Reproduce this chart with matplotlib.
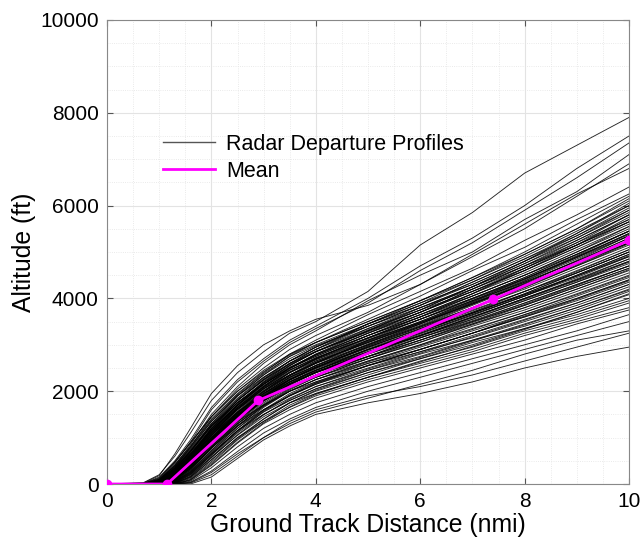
import matplotlib
matplotlib.use("Agg")
import matplotlib.pyplot as plt
from matplotlib.lines import Line2D
from matplotlib.ticker import MultipleLocator

plt.rcParams['font.family'] = ['Liberation Sans', 'DejaVu Sans']

# Sample distances (nmi) at which each radar profile is read
profile_x = [0, 0.7, 1.0, 1.3, 1.6, 2.0, 2.5, 3.0, 3.5, 4.0, 5.0, 6.0, 7.0, 8.0, 9.0, 10.0]

# Altitudes (ft) of each radar departure profile at profile_x (x=0 -> 0 ft)
profiles = [
    [30, 200, 600, 1100, 1800, 2400, 2850, 3250, 3500, 4150, 5150, 5850, 6700, 7300, 7900],
    [10, 150, 500, 950, 1650, 2250, 2700, 3100, 3400, 4000, 4700, 5300, 6000, 6800, 7500],
    [0, 100, 450, 900, 1600, 2200, 2650, 3050, 3350, 3900, 4600, 5200, 5900, 6600, 7350],
    [0, 80, 400, 850, 1500, 2100, 2600, 3000, 3300, 3950, 4500, 5000, 5700, 6300, 7100],
    [20, 180, 650, 1200, 1950, 2550, 3000, 3300, 3550, 3850, 4300, 4900, 5500, 6200, 6900],
    [0, 60, 350, 800, 1450, 2050, 2500, 2900, 3200, 3700, 4300, 4950, 5600, 6250, 6800],
    [0, 100, 420, 820, 1400, 1950, 2400, 2800, 3100, 3650, 4150, 4650, 5250, 5800, 6400],
    [0, 50, 300, 700, 1300, 1900, 2350, 2750, 3050, 3550, 4050, 4600, 5100, 5700, 6250],
    [10, 120, 480, 900, 1450, 2000, 2450, 2800, 3050, 3500, 3950, 4450, 4950, 5500, 6100],
    [0, 40, 250, 600, 1200, 1800, 2250, 2650, 2950, 3450, 3950, 4400, 4900, 5450, 6000],
    [0, 90, 380, 760, 1350, 1900, 2300, 2650, 2900, 3400, 3850, 4350, 4850, 5350, 5900],
    [0, 30, 220, 560, 1100, 1700, 2200, 2600, 2900, 3450, 3900, 4300, 4800, 5300, 5850],
    [0, 70, 330, 700, 1250, 1800, 2250, 2600, 2850, 3300, 3750, 4250, 4750, 5250, 5800],
    [0, 50, 280, 650, 1200, 1750, 2150, 2500, 2800, 3300, 3800, 4250, 4700, 5200, 5700],
    [0, 20, 200, 520, 1050, 1650, 2100, 2500, 2800, 3250, 3700, 4200, 4700, 5150, 5650],
    [0, 60, 300, 650, 1150, 1700, 2150, 2550, 2850, 3350, 3750, 4150, 4600, 5100, 5600],
    [0, 40, 240, 580, 1100, 1650, 2100, 2450, 2700, 3200, 3650, 4100, 4550, 5050, 5550],
    [0, 20, 180, 480, 1000, 1550, 2000, 2400, 2700, 3150, 3600, 4050, 4500, 5000, 5500],
    [0, 50, 260, 600, 1100, 1600, 2000, 2350, 2650, 3100, 3550, 4000, 4450, 4950, 5450],
    [0, 10, 150, 440, 950, 1500, 1950, 2300, 2600, 3100, 3500, 3950, 4400, 4900, 5400],
    [0, 30, 200, 520, 1050, 1600, 2050, 2400, 2650, 3050, 3450, 3900, 4350, 4800, 5300],
    [0, 60, 280, 620, 1150, 1650, 2050, 2350, 2600, 3000, 3400, 3850, 4300, 4750, 5250],
    [0, 20, 170, 470, 980, 1520, 1950, 2300, 2550, 3000, 3450, 3900, 4300, 4750, 5200],
    [0, 0, 120, 400, 900, 1450, 1900, 2250, 2550, 3000, 3400, 3800, 4250, 4700, 5150],
    [0, 40, 230, 560, 1050, 1550, 1950, 2300, 2550, 2950, 3350, 3800, 4200, 4650, 5100],
    [0, 10, 140, 420, 920, 1450, 1900, 2250, 2500, 2950, 3350, 3750, 4150, 4600, 5050],
    [0, 30, 190, 500, 1000, 1500, 1900, 2200, 2450, 2900, 3300, 3700, 4150, 4550, 5000],
    [0, 0, 100, 350, 850, 1400, 1850, 2200, 2450, 2900, 3300, 3700, 4100, 4550, 5000],
    [0, 50, 250, 570, 1050, 1550, 1950, 2250, 2500, 2900, 3250, 3650, 4050, 4500, 4950],
    [0, 20, 160, 450, 950, 1450, 1850, 2200, 2450, 2850, 3250, 3650, 4050, 4450, 4900],
    [0, 10, 130, 400, 880, 1400, 1800, 2150, 2400, 2850, 3200, 3600, 4000, 4400, 4850],
    [0, 30, 200, 500, 980, 1480, 1880, 2200, 2450, 2850, 3200, 3600, 4000, 4400, 4800],
    [0, 0, 90, 330, 800, 1350, 1800, 2150, 2400, 2800, 3200, 3550, 3950, 4350, 4800],
    [0, 40, 210, 520, 1000, 1500, 1850, 2150, 2400, 2750, 3150, 3550, 3950, 4350, 4750],
    [0, 10, 120, 380, 850, 1380, 1800, 2100, 2350, 2750, 3150, 3500, 3900, 4300, 4700],
    [0, 20, 170, 460, 930, 1420, 1800, 2100, 2350, 2750, 3100, 3500, 3850, 4250, 4650],
    [0, 0, 80, 300, 780, 1300, 1750, 2100, 2350, 2700, 3100, 3450, 3850, 4250, 4650],
    [0, 30, 180, 480, 950, 1450, 1800, 2100, 2300, 2700, 3050, 3450, 3800, 4200, 4600],
    [0, 0, 70, 280, 730, 1250, 1700, 2050, 2300, 2650, 3000, 3400, 3750, 4150, 4550],
    [0, 10, 110, 360, 820, 1300, 1700, 2000, 2250, 2650, 3000, 3350, 3700, 4100, 4500],
    [0, 0, 50, 240, 680, 1200, 1650, 2000, 2250, 2600, 2950, 3300, 3650, 4050, 4450],
    [0, 20, 150, 420, 880, 1350, 1700, 2000, 2200, 2600, 2900, 3250, 3650, 4000, 4400],
    [0, 0, 60, 260, 700, 1200, 1600, 1950, 2200, 2550, 2900, 3250, 3600, 3950, 4350],
    [0, 0, 30, 200, 620, 1150, 1600, 1900, 2150, 2550, 2850, 3200, 3550, 3900, 4300],
    [0, 10, 100, 340, 780, 1250, 1600, 1900, 2150, 2500, 2850, 3150, 3500, 3850, 4250],
    [0, 0, 40, 220, 640, 1150, 1550, 1850, 2100, 2450, 2800, 3100, 3450, 3800, 4200],
    [0, 0, 20, 170, 580, 1100, 1500, 1800, 2050, 2450, 2750, 3100, 3400, 3750, 4150],
    [0, 0, 60, 250, 660, 1150, 1500, 1800, 2050, 2400, 2700, 3050, 3350, 3700, 4100],
    [0, 0, 10, 140, 520, 1000, 1400, 1750, 2000, 2350, 2700, 3000, 3350, 3650, 4000],
    [0, 0, 30, 190, 580, 1050, 1450, 1750, 1950, 2300, 2650, 2950, 3300, 3600, 3950],
    [0, 0, 0, 100, 450, 950, 1350, 1700, 1950, 2300, 2600, 2900, 3250, 3550, 3900],
    [0, 0, 20, 150, 520, 1000, 1350, 1650, 1900, 2250, 2550, 2850, 3200, 3500, 3800],
    [0, 0, 0, 80, 400, 880, 1300, 1600, 1850, 2200, 2500, 2800, 3100, 3450, 3750],
    [0, 0, 0, 60, 350, 800, 1200, 1500, 1750, 2100, 2400, 2700, 3000, 3300, 3650],
    [0, 0, 0, 40, 280, 700, 1100, 1400, 1650, 2000, 2300, 2600, 2900, 3200, 3500],
    [0, 0, 0, 30, 250, 650, 1000, 1300, 1550, 1850, 2150, 2450, 2800, 3100, 3300],
    [0, 0, 0, 0, 150, 550, 950, 1250, 1500, 1750, 1950, 2200, 2500, 2750, 2950],
    [0, 0, 0, 20, 200, 600, 1000, 1350, 1600, 1900, 2100, 2350, 2650, 2950, 3250],
    [0, 40, 220, 540, 1020, 1530, 1930, 2280, 2560, 3020, 3420, 3870, 4320, 4820, 5350],
    [0, 20, 160, 470, 970, 1480, 1880, 2230, 2500, 2980, 3380, 3780, 4230, 4700, 5180],
    [0, 60, 300, 640, 1150, 1680, 2100, 2480, 2780, 3250, 3650, 4050, 4500, 4950, 5450],
    [0, 0, 110, 370, 850, 1380, 1800, 2150, 2420, 2830, 3230, 3630, 4050, 4480, 4920],
    [0, 30, 190, 490, 970, 1470, 1870, 2170, 2420, 2820, 3180, 3580, 3980, 4380, 4780],
    [0, 80, 350, 720, 1250, 1750, 2150, 2500, 2750, 3200, 3600, 4050, 4500, 5000, 5550],
    [0, 10, 140, 410, 890, 1400, 1820, 2170, 2450, 2880, 3280, 3680, 4100, 4550, 5000],
    [0, 50, 270, 610, 1120, 1620, 2020, 2350, 2620, 3070, 3470, 3920, 4370, 4850, 5350],
    [0, 60, 320, 700, 1250, 1800, 2250, 2600, 2900, 3350, 3800, 4250, 4750, 5300, 5900],
    [0, 80, 360, 740, 1300, 1850, 2300, 2650, 2950, 3400, 3850, 4350, 4850, 5400, 6000],
    [0, 30, 230, 580, 1150, 1700, 2150, 2500, 2750, 3200, 3650, 4100, 4600, 5150, 5750],
    [0, 50, 290, 660, 1200, 1750, 2200, 2550, 2850, 3300, 3700, 4150, 4650, 5150, 5650],
    [0, 70, 340, 720, 1280, 1830, 2280, 2650, 2950, 3450, 3900, 4400, 4950, 5500, 6150],
    [0, 20, 190, 510, 1050, 1620, 2080, 2450, 2720, 3150, 3550, 4000, 4450, 4950, 5450],
    [0, 40, 260, 620, 1180, 1720, 2180, 2560, 2850, 3280, 3700, 4150, 4600, 5100, 5650],
    [0, 100, 400, 800, 1380, 1930, 2380, 2750, 3000, 3450, 3850, 4300, 4800, 5350, 5950],
    [0, 10, 160, 460, 980, 1530, 1980, 2330, 2600, 3050, 3480, 3930, 4380, 4880, 5400],
    [0, 30, 210, 540, 1080, 1620, 2060, 2400, 2680, 3130, 3550, 3980, 4420, 4900, 5380],
    [0, 50, 280, 640, 1180, 1700, 2120, 2460, 2720, 3150, 3550, 3950, 4350, 4800, 5250],
    [0, 20, 180, 490, 1000, 1540, 1980, 2330, 2620, 3080, 3500, 3950, 4420, 4920, 5450],
    [0, 60, 310, 680, 1230, 1760, 2180, 2520, 2780, 3200, 3600, 4000, 4420, 4880, 5350],
    [0, 0, 130, 400, 900, 1440, 1880, 2240, 2520, 2970, 3380, 3800, 4250, 4720, 5200],
    [0, 40, 240, 590, 1130, 1660, 2080, 2420, 2680, 3100, 3480, 3880, 4300, 4750, 5200],
    [0, 10, 150, 440, 940, 1470, 1900, 2250, 2520, 2950, 3330, 3730, 4150, 4580, 5050],
    [0, 30, 200, 520, 1040, 1570, 2000, 2350, 2620, 3050, 3450, 3880, 4330, 4800, 5300],
    [0, 0, 100, 360, 860, 1400, 1850, 2200, 2480, 2900, 3280, 3680, 4080, 4500, 4950],
    [0, 20, 170, 470, 970, 1500, 1920, 2260, 2520, 2930, 3300, 3680, 4080, 4480, 4900],
    [0, 0, 90, 320, 800, 1330, 1780, 2130, 2400, 2820, 3200, 3600, 4000, 4420, 4850],
    [0, 10, 130, 390, 870, 1390, 1810, 2150, 2410, 2800, 3150, 3520, 3900, 4300, 4700],
    [0, 0, 60, 270, 720, 1240, 1680, 2030, 2300, 2700, 3060, 3430, 3800, 4200, 4620],
    [0, 0, 80, 300, 770, 1290, 1720, 2070, 2340, 2740, 3100, 3480, 3870, 4280, 4700],
    [0, 0, 40, 210, 620, 1120, 1560, 1900, 2170, 2550, 2900, 3250, 3620, 4000, 4400],
    [0, 0, 20, 160, 560, 1060, 1490, 1830, 2100, 2480, 2820, 3170, 3530, 3900, 4300],
    [0, 10, 100, 330, 770, 1260, 1670, 2000, 2250, 2630, 2980, 3330, 3700, 4080, 4480],
    [0, 0, 10, 120, 480, 970, 1400, 1750, 2020, 2400, 2730, 3080, 3430, 3800, 4180],
    [0, 0, 50, 230, 650, 1150, 1580, 1920, 2180, 2560, 2900, 3250, 3600, 3980, 4380],
    [0, 0, 0, 90, 420, 900, 1320, 1660, 1930, 2300, 2630, 2970, 3330, 3700, 4080],
    [0, 40, 250, 600, 1150, 1700, 2150, 2500, 2780, 3250, 3700, 4200, 4700, 5250, 5800],
    [0, 90, 380, 780, 1350, 1900, 2350, 2700, 2980, 3400, 3800, 4200, 4650, 5150, 5700],
    [10, 130, 470, 880, 1450, 2000, 2420, 2780, 3050, 3500, 3950, 4450, 5000, 5600, 6200],
    [0, 70, 330, 700, 1260, 1800, 2230, 2580, 2860, 3320, 3750, 4250, 4800, 5400, 6050],
    [0, 30, 210, 540, 1080, 1620, 2050, 2400, 2700, 3150, 3600, 4100, 4650, 5200, 5800],
]

# Mean profile
mean_x = [0, 1.15, 2.9, 7.4, 10]
mean_y = [0, 0, 1800, 3980, 5250]

x_ticks = [0, 2, 4, 6, 8, 10]
y_ticks = [0, 2000, 4000, 6000, 8000, 10000]

fig = plt.figure(figsize=(6.42, 5.46), dpi=100)
ax = fig.add_axes([107/642, 1-484/546, (629-107)/642, (484-20)/546])

for prof in profiles:
    ax.plot(profile_x, [0] + prof, color='k', lw=0.65, alpha=0.85)

ax.plot(mean_x, mean_y, color='#ff00ff', lw=2, marker='o', ms=6, zorder=5)

ax.set_xlim(0, 10)
ax.set_ylim(0, 10000)
ax.set_xticks(x_ticks)
ax.set_yticks(y_ticks)
ax.xaxis.set_minor_locator(MultipleLocator(0.5))
ax.yaxis.set_minor_locator(MultipleLocator(500))
ax.grid(True, which='major', color='#e3e3e3', lw=0.8)
ax.grid(True, which='minor', color='#e3e3e3', lw=0.6, ls=':')
ax.set_axisbelow(True)
ax.tick_params(which='major', direction='in', top=True, right=True,
               length=4, labelsize=15, color='#555555', pad=6)
ax.tick_params(which='minor', length=0)
for s in ax.spines.values():
    s.set_color('#888888')
    s.set_linewidth(0.8)

ax.set_xlabel('Ground Track Distance (nmi)', fontsize=17.8, labelpad=1)
ax.set_ylabel('Altitude (ft)', fontsize=17.8, labelpad=3)

handles = [Line2D([], [], color='#555555', lw=1),
           Line2D([], [], color='#ff00ff', lw=2)]
fig.legend(handles, ['Radar Departure Profiles', 'Mean'],
           loc='upper left', bbox_to_anchor=(163/642, 1-134/546),
           frameon=False, fontsize=15.5, handlelength=2.42,
           handletextpad=0.5, labelspacing=0.28, borderpad=0, borderaxespad=0)

fig.savefig('out.png', dpi=100)
